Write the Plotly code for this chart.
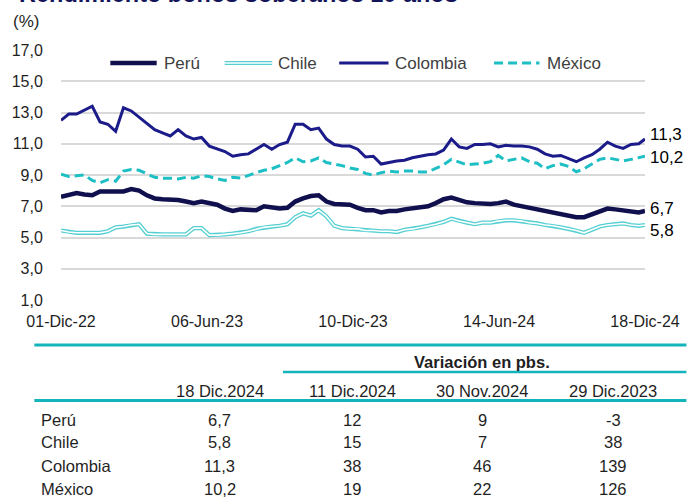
import plotly.graph_objects as go

# ---------------- data ----------------
dates = [
    "2022-12-01", "2022-12-11", "2022-12-21", "2022-12-31", "2023-01-10", "2023-01-20",
    "2023-01-30", "2023-02-09", "2023-02-19", "2023-03-01", "2023-03-11", "2023-03-21",
    "2023-03-31", "2023-04-10", "2023-04-20", "2023-04-30", "2023-05-10", "2023-05-20",
    "2023-05-30", "2023-06-09", "2023-06-19", "2023-06-29", "2023-07-09", "2023-07-19",
    "2023-07-29", "2023-08-08", "2023-08-18", "2023-08-28", "2023-09-07", "2023-09-17",
    "2023-09-27", "2023-10-07", "2023-10-17", "2023-10-27", "2023-11-06", "2023-11-16",
    "2023-11-26", "2023-12-06", "2023-12-16", "2023-12-26", "2024-01-05", "2024-01-15",
    "2024-01-25", "2024-02-04", "2024-02-14", "2024-02-24", "2024-03-05", "2024-03-15",
    "2024-03-25", "2024-04-04", "2024-04-14", "2024-04-24", "2024-05-04", "2024-05-14",
    "2024-05-24", "2024-06-03", "2024-06-13", "2024-06-23", "2024-07-03", "2024-07-13",
    "2024-07-23", "2024-08-02", "2024-08-12", "2024-08-22", "2024-09-01", "2024-09-11",
    "2024-09-21", "2024-10-01", "2024-10-11", "2024-10-21", "2024-10-31", "2024-11-10",
    "2024-11-20", "2024-11-30", "2024-12-10", "2024-12-18",
]

peru = [
    7.6, 7.75, 7.85, 7.75, 7.7, 7.95, 7.95, 7.9, 7.95, 8.1, 8.0, 7.7,
    7.5, 7.45, 7.45, 7.4, 7.3, 7.2, 7.3, 7.2, 7.1, 6.85, 6.7, 6.8,
    6.8, 6.75, 7.0, 6.9, 6.85, 6.9, 7.3, 7.5, 7.65, 7.7, 7.3, 7.15,
    7.15, 7.1, 6.9, 6.75, 6.75, 6.6, 6.7, 6.7, 6.8, 6.85, 6.95, 7.0,
    7.2, 7.45, 7.55, 7.4, 7.25, 7.2, 7.15, 7.15, 7.2, 7.3, 7.1, 7.0,
    6.9, 6.8, 6.65, 6.6, 6.5, 6.4, 6.3, 6.3, 6.5, 6.7, 6.85, 6.8,
    6.75, 6.65, 6.6, 6.7,
]

chile = [
    5.45, 5.35, 5.3, 5.3, 5.3, 5.3, 5.4, 5.65, 5.7, 5.8, 5.85, 5.25,
    5.2, 5.2, 5.2, 5.2, 5.2, 5.6, 5.6, 5.15, 5.15, 5.2, 5.25, 5.3,
    5.4, 5.55, 5.65, 5.7, 5.75, 5.85, 6.3, 6.55, 6.4, 6.75, 6.35, 5.75,
    5.6, 5.55, 5.55, 5.45, 5.45, 5.4, 5.4, 5.35, 5.5, 5.55, 5.65, 5.75,
    5.85, 6.0, 6.2, 6.05, 5.95, 5.85, 5.95, 5.95, 6.05, 6.1, 6.1, 6.05,
    5.95, 5.9, 5.8, 5.75, 5.65, 5.55, 5.45, 5.3, 5.5, 5.7, 5.8, 5.85,
    5.9, 5.8, 5.75, 5.8,
]

colombia = [
    12.5, 12.9, 12.9, 13.15, 13.4, 12.4, 12.25, 11.8, 13.3, 13.1, 12.7, 12.35,
    11.9, 11.7, 11.5, 11.9, 11.5, 11.3, 11.4, 10.85, 10.65, 10.5, 10.2, 10.3,
    10.35, 10.65, 10.95, 10.65, 10.95, 11.1, 12.25, 12.25, 11.9, 12.0, 11.3, 10.95,
    10.85, 10.85, 10.65, 10.15, 10.2, 9.7, 9.8, 9.9, 9.95, 10.1, 10.2, 10.3,
    10.35, 10.6, 11.3, 10.8, 10.7, 10.95, 10.95, 11.0, 10.8, 10.9, 10.85, 10.85,
    10.8, 10.65, 10.35, 10.2, 10.25, 10.05, 9.85, 10.1, 10.3, 10.65, 11.1, 10.85,
    10.7, 10.95, 11.0, 11.3,
]

mexico = [
    9.05, 8.9, 8.95, 9.0, 8.65, 8.5, 8.7, 8.6, 9.25, 9.35, 9.3, 9.1,
    8.85, 8.8, 8.8, 8.75, 8.85, 8.8, 8.95, 8.9, 8.75, 8.65, 8.85, 8.8,
    9.0, 9.15, 9.3, 9.4, 9.6, 9.8, 10.1, 9.85, 9.9, 10.1, 9.8, 9.7,
    9.6, 9.45, 9.35, 9.1, 9.0, 9.15, 9.25, 9.2, 9.25, 9.25, 9.2, 9.2,
    9.4, 9.65, 10.0, 9.85, 9.65, 9.7, 9.75, 9.85, 10.25, 9.9, 10.0, 10.1,
    9.85, 9.75, 9.4, 9.6, 9.7, 9.55, 9.2, 9.4, 9.7, 10.0, 10.1, 10.0,
    9.9, 10.0, 10.1, 10.2,
]

series_names = ["Perú", "Chile", "Colombia", "México"]

tick_dates = ["2022-12-01", "2023-06-06", "2023-12-10", "2024-06-14", "2024-12-18"]
tick_labels = ["01-Dic-22", "06-Jun-23", "10-Dic-23", "14-Jun-24", "18-Dic-24"]

y_ticks = [1, 3, 5, 7, 9, 11, 13, 15, 17]

table_rows = ["Perú", "Chile", "Colombia", "México"]
table_cols = ["18 Dic.2024", "11 Dic.2024", "30 Nov.2024", "29 Dic.2023"]
level_1812 = [6.7, 5.8, 11.3, 10.2]
var_1112 = [12, 15, 38, 19]
var_3011 = [9, 7, 46, 22]
var_2912 = [-3, 38, 139, 126]

title_text = "Rendimiento bonos soberanos 10 años"
unit_text = "(%)"
var_header = "Variación en pbs."

# ---------------- styles ----------------
W, H = 692, 497
ML, MR, MT, MB = 58, 42, 50, 197
PW, PH = W - ML - MR, H - MT - MB

NAVY_DARK = "#10104f"
NAVY = "#1b1b8a"
TEAL = "#1dbfc4"
TEAL_LIGHT = "#55cfd2"
TEAL_RULE = "#14b4bc"
GRID = "#d9d9d9"
TXT = "#1f1f1f"
FONT = "Arial, Liberation Sans, sans-serif"


def px_x(p):
    return (p - ML) / PW


def px_y(p):
    return (MT + PH - p) / PH


def fmt(v):
    return f"{v:.1f}".replace(".", ",")


fig = go.Figure()

# Chile: double line (teal outline, white core)
fig.add_trace(go.Scatter(x=dates, y=chile, mode="lines", name="Chile",
                         line=dict(color=TEAL_LIGHT, width=4.2), hoverinfo="skip"))
fig.add_trace(go.Scatter(x=dates, y=chile, mode="lines", name="Chile",
                         line=dict(color="white", width=1.6)))
fig.add_trace(go.Scatter(x=dates, y=mexico, mode="lines", name="México",
                         line=dict(color=TEAL, width=3, dash="9px,5px")))
fig.add_trace(go.Scatter(x=dates, y=colombia, mode="lines", name="Colombia",
                         line=dict(color=NAVY, width=3)))
fig.add_trace(go.Scatter(x=dates, y=peru, mode="lines", name="Perú",
                         line=dict(color=NAVY_DARK, width=4.5)))

annotations = []
shapes = []

# end-of-line labels
end_vals = {"Colombia": colombia[-1], "México": mexico[-1], "Perú": peru[-1], "Chile": chile[-1]}
end_shift = {"Colombia": 5, "México": -1, "Perú": 2, "Chile": -5}
for nm, v in end_vals.items():
    annotations.append(dict(x=dates[-1], y=v, xref="x", yref="y", text=fmt(v),
                            showarrow=False, xanchor="left", yanchor="middle",
                            xshift=3, yshift=end_shift[nm],
                            font=dict(family=FONT, size=17, color="#000000")))

# custom legend (line samples + labels)
leg_y = px_y(63)
leg_items = [
    ("Perú", 108, 155, 160, dict(color=NAVY_DARK, width=4.5)),
    ("Chile", 224, 272, 276, None),
    ("Colombia", 340, 390, 395, dict(color=NAVY, width=3)),
    ("México", 497, 543, 549, dict(color=TEAL, width=3, dash="9px,5px")),
]
for nm, x0, x1, xt, ln in leg_items:
    if ln is None:
        shapes.append(dict(type="line", xref="paper", yref="paper", x0=px_x(x0), x1=px_x(x1),
                           y0=leg_y, y1=leg_y, line=dict(color=TEAL_LIGHT, width=4.2)))
        shapes.append(dict(type="line", xref="paper", yref="paper", x0=px_x(x0), x1=px_x(x1),
                           y0=leg_y, y1=leg_y, line=dict(color="white", width=1.6)))
    else:
        shapes.append(dict(type="line", xref="paper", yref="paper", x0=px_x(x0), x1=px_x(x1),
                           y0=leg_y, y1=leg_y, line=ln))
    annotations.append(dict(x=px_x(xt), y=leg_y, xref="paper", yref="paper", text=nm,
                            showarrow=False, xanchor="left", yanchor="middle",
                            font=dict(family=FONT, size=17, color="#404040")))

# title (clipped at top like the reference) and unit
annotations.append(dict(x=px_x(13), y=px_y(8.5), xref="paper", yref="paper", text=f"<b>{title_text}</b>",
                        showarrow=False, xanchor="left", yanchor="bottom",
                        font=dict(family=FONT, size=23.5, color="#14145a")))
annotations.append(dict(x=px_x(7), y=px_y(21.5), xref="paper", yref="paper", text=unit_text,
                        showarrow=False, xanchor="left", yanchor="middle",
                        font=dict(family=FONT, size=17, color=TXT)))

# ---------------- table ----------------
tfont = dict(family=FONT, size=16.5, color=TXT)
col_x = [219, 353, 485, 618]
row_y = [419.5, 442.5, 466, 489]

shapes.append(dict(type="line", xref="paper", yref="paper", x0=px_x(31), x1=px_x(692),
                   y0=px_y(345), y1=px_y(345), line=dict(color=TEAL_RULE, width=3)))
shapes.append(dict(type="line", xref="paper", yref="paper", x0=px_x(283), x1=px_x(692),
                   y0=px_y(372), y1=px_y(372), line=dict(color=TEAL_RULE, width=2.5)))
shapes.append(dict(type="line", xref="paper", yref="paper", x0=px_x(31), x1=px_x(692),
                   y0=px_y(400.5), y1=px_y(400.5), line=dict(color=TEAL_RULE, width=3)))

annotations.append(dict(x=px_x(485), y=px_y(361.5), xref="paper", yref="paper",
                        text=f"<b>{var_header}</b>", showarrow=False, xanchor="center",
                        yanchor="middle", font=tfont))
for cx, lab in zip(col_x, table_cols):
    annotations.append(dict(x=px_x(cx), y=px_y(391), xref="paper", yref="paper", text=lab,
                            showarrow=False, xanchor="center", yanchor="middle", font=tfont))

for i, rname in enumerate(table_rows):
    ry = px_y(row_y[i])
    annotations.append(dict(x=px_x(36), y=ry, xref="paper", yref="paper", text=rname,
                            showarrow=False, xanchor="left", yanchor="middle", font=tfont))
    cells = [fmt(level_1812[i]), str(var_1112[i]), str(var_3011[i]), str(var_2912[i])]
    for cx, txt in zip(col_x, cells):
        annotations.append(dict(x=px_x(cx), y=ry, xref="paper", yref="paper", text=txt,
                                showarrow=False, xanchor="center", yanchor="middle", font=tfont))

fig.update_layout(
    width=W, height=H,
    margin=dict(l=ML, r=MR, t=MT, b=MB, pad=0),
    paper_bgcolor="white", plot_bgcolor="white",
    showlegend=False,
    separators=",.",
    font=dict(family=FONT, size=16, color=TXT),
    annotations=annotations,
    shapes=shapes,
    xaxis=dict(type="date", range=[dates[0], dates[-1]], tickvals=tick_dates, ticktext=tick_labels,
               showgrid=False, zeroline=False, showline=False, ticks="outside", ticklen=7,
               tickcolor="rgba(0,0,0,0)", tickfont=dict(family=FONT, size=16, color=TXT)),
    yaxis=dict(range=[1, 17], tickvals=y_ticks, tickformat=".1f", showgrid=True,
               gridcolor=GRID, gridwidth=1.5, zeroline=False, showline=False,
               ticks="outside", ticklen=14, tickcolor="rgba(0,0,0,0)",
               tickfont=dict(family=FONT, size=16, color=TXT)),
)

fig.write_html(
    "out.html",
    config={"displayModeBar": False},
    post_script="document.body.style.margin='0';document.body.style.padding='0';"
                "document.documentElement.style.overflow='hidden';",
)
